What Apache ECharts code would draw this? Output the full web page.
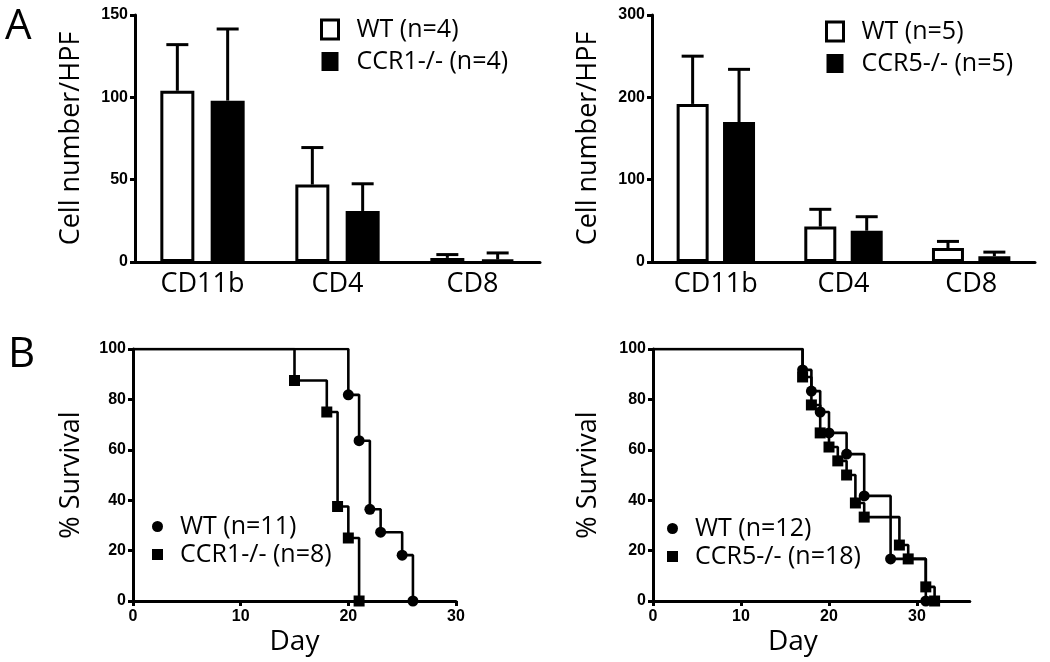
<!DOCTYPE html>
<html>
<head>
<meta charset="utf-8">
<script src="https://cdn.jsdelivr.net/npm/echarts@6/dist/echarts.min.js"></script>
<style>
html,body{margin:0;padding:0;background:#fff;}
#chart{width:1050px;height:662px;}
</style>
</head>
<body>
<div id="chart"></div>
<script>
// ---------- Data ----------
var cellCategories = ['CD11b', 'CD4', 'CD8'];

// Panel A left (CCR1)
var wtA1Mean = [104, 47, 2.5];
var wtA1Top = [132, 69.5, 4.5];
var koA1Mean = [98, 31, 1.5];
var koA1Top = [141.5, 47.5, 5.5];

// Panel A right (CCR5)
var wtA2Mean = [192, 43, 17];
var wtA2Top = [250, 64, 25];
var koA2Mean = [170, 38, 7];
var koA2Top = [234, 55, 12];

// Panel B left survival (day, % survival)
var wtB1 = [[0, 100], [20, 81.8], [21, 63.6], [22, 36.4], [23, 27.3], [25, 18.2], [26, 0]];
var koB1 = [[0, 100], [15, 87.5], [18, 75], [19, 37.5], [20, 25], [21, 0]];

// Panel B right survival
var wtB2 = [[0, 100], [17, 91.7], [18, 83.3], [19, 75], [20, 66.7], [22, 58.3], [24, 41.7], [27, 16.7], [31, 0]];
var koB2 = [[0, 100], [17, 88.9], [18, 77.8], [19, 66.7], [20, 61.1], [21, 55.6], [22, 50], [23, 38.9], [24, 33.3], [28, 22.2], [29, 16.7], [31, 5.6], [32, 0]];

var yTicksA1 = [0, 50, 100, 150];
var yTicksA2 = [0, 100, 200, 300];
var yTicksB = [0, 20, 40, 60, 80, 100];
var xTicksB = [0, 10, 20, 30];

var namesA1 = ['WT (n=4)', 'CCR1-/- (n=4)'];
var namesA2 = ['WT (n=5)', 'CCR5-/- (n=5)'];
var namesB1 = ['WT (n=11)', 'CCR1-/- (n=8)'];
var namesB2 = ['WT (n=12)', 'CCR5-/- (n=18)'];

// ---------- Styling helpers ----------
var TXT = '"Open Sans", "Noto Sans", sans-serif';
var TICKFONT = '"Liberation Sans", Arial, sans-serif';
var LW = 3;
var TICKSIZE = 16;

function yAxisVal(grid, max, interval, name, gap) {
  return {
    type: 'value', gridIndex: grid, min: 0, max: max, interval: interval,
    name: name, nameLocation: 'middle', nameGap: gap,
    nameTextStyle: {fontFamily: TXT, fontSize: 27, color: '#000'},
    axisLine: {show: true, lineStyle: {color: '#000', width: LW}},
    axisTick: {show: true, length: 5, lineStyle: {color: '#000', width: LW}},
    splitLine: {show: false},
    axisLabel: {fontFamily: TICKFONT, fontWeight: 'bold', fontSize: TICKSIZE, color: '#000', margin: 7}
  };
}

function errSeries(xi, yi, means, tops, offset) {
  var data = means.map(function (m, i) { return [i, m, tops[i]]; });
  return {
    type: 'custom', xAxisIndex: xi, yAxisIndex: yi, z: 1,
    encode: {x: 0, y: [1, 2]},
    data: data,
    renderItem: function (params, api) {
      var p0 = api.coord([api.value(0), api.value(1)]);
      var p1 = api.coord([api.value(0), api.value(2)]);
      var cx = p0[0] + offset;
      return {
        type: 'group', children: [
          {type: 'line', shape: {x1: cx, y1: p0[1], x2: cx, y2: p1[1]}, style: {stroke: '#000', lineWidth: LW}},
          {type: 'line', shape: {x1: cx - 11, y1: p1[1], x2: cx + 11, y2: p1[1]}, style: {stroke: '#000', lineWidth: LW}}
        ]
      };
    }
  };
}

function survData(arr) {
  return arr.map(function (p, i) {
    if (i === 0) return {value: p, symbol: 'none'};
    return {value: p};
  });
}

function survSeries(name, xi, yi, arr, symbol) {
  return {
    type: 'line', name: name, xAxisIndex: xi, yAxisIndex: yi,
    step: 'end', data: survData(arr),
    symbol: symbol, symbolSize: 11,
    showSymbol: true, showAllSymbol: true,
    lineStyle: {color: '#000', width: 2.6},
    itemStyle: {color: '#000'},
    animation: false, z: 3
  };
}

var BW1 = 34, BG1 = 0.48;
var BW2 = 32, BG2 = 0.45;

var option = {
  animation: false,
  backgroundColor: '#fff',
  grid: [
    {left: 135, top: 15, width: 405, height: 247, outerBoundsMode: 'none', containLabel: false},
    {left: 652, top: 15, width: 383, height: 247, outerBoundsMode: 'none', containLabel: false},
    {left: 133, top: 349, width: 323, height: 252, outerBoundsMode: 'none', containLabel: false},
    {left: 653, top: 349, width: 316.8, height: 252, outerBoundsMode: 'none', containLabel: false}
  ],
  xAxis: [
    {type: 'category', gridIndex: 0, data: cellCategories, boundaryGap: true,
      axisLine: {lineStyle: {color: '#000', width: LW}},
      axisTick: {alignWithLabel: true, length: 6, lineStyle: {color: '#000', width: LW}},
      axisLabel: {fontFamily: TXT, fontSize: 27, color: '#000', margin: 9}},
    {type: 'category', gridIndex: 1, data: cellCategories, boundaryGap: true,
      axisLine: {lineStyle: {color: '#000', width: LW}},
      axisTick: {alignWithLabel: true, length: 6, lineStyle: {color: '#000', width: LW}},
      axisLabel: {fontFamily: TXT, fontSize: 27, color: '#000', margin: 9}},
    {type: 'value', gridIndex: 2, min: 0, max: 30, interval: 10,
      name: 'Day', nameLocation: 'middle', nameGap: 27,
      nameTextStyle: {fontFamily: TXT, fontSize: 28, color: '#000'},
      axisLine: {lineStyle: {color: '#000', width: LW}},
      axisTick: {length: 5, lineStyle: {color: '#000', width: LW}},
      splitLine: {show: false},
      axisLabel: {fontFamily: TICKFONT, fontWeight: 'bold', fontSize: TICKSIZE, color: '#000', margin: 8}},
    {type: 'value', gridIndex: 3, min: 0, max: 36, interval: 10,
      name: 'Day', nameLocation: 'middle', nameGap: 27,
      nameTextStyle: {fontFamily: TXT, fontSize: 28, color: '#000', padding: [0, 37, 0, 0]},
      axisLine: {lineStyle: {color: '#000', width: LW}},
      axisTick: {length: 5, customValues: xTicksB, lineStyle: {color: '#000', width: LW}},
      splitLine: {show: false},
      axisLabel: {fontFamily: TICKFONT, fontWeight: 'bold', fontSize: TICKSIZE, color: '#000', margin: 8, customValues: xTicksB}}
  ],
  yAxis: [
    yAxisVal(0, 150, 50, 'Cell number/HPF', 50),
    yAxisVal(1, 300, 100, 'Cell number/HPF', 50),
    yAxisVal(2, 100, 20, '% Survival', 48),
    yAxisVal(3, 100, 20, '% Survival', 51)
  ],
  legend: [
    {left: 320, top: 17, orient: 'vertical', padding: 0, itemGap: 7, itemWidth: 17, itemHeight: 19,
      selectedMode: false,
      textStyle: {fontFamily: TXT, fontSize: 25, color: '#000', padding: [0, 0, 0, 13]},
      data: [
        {name: namesA1[0], icon: 'rect', itemStyle: {color: '#fff', borderColor: '#000', borderWidth: 3}},
        {name: namesA1[1], icon: 'rect', itemStyle: {color: '#000', borderColor: '#000', borderWidth: 0}}
      ]},
    {left: 825, top: 19, orient: 'vertical', padding: 0, itemGap: 7, itemWidth: 17, itemHeight: 19,
      selectedMode: false,
      textStyle: {fontFamily: TXT, fontSize: 25, color: '#000', padding: [0, 0, 0, 13]},
      data: [
        {name: namesA2[0], icon: 'rect', itemStyle: {color: '#fff', borderColor: '#000', borderWidth: 3}},
        {name: namesA2[1], icon: 'rect', itemStyle: {color: '#000', borderColor: '#000', borderWidth: 0}}
      ]},
    {left: 152, top: 514, orient: 'vertical', padding: 0, itemGap: 3, itemWidth: 11, itemHeight: 11,
      selectedMode: false,
      textStyle: {fontFamily: TXT, fontSize: 25, color: '#000', padding: [0, 0, 0, 12]},
      data: [{name: namesB1[0], icon: 'circle'}, {name: namesB1[1], icon: 'rect'}]},
    {left: 667, top: 516, orient: 'vertical', padding: 0, itemGap: 3, itemWidth: 11, itemHeight: 11,
      selectedMode: false,
      textStyle: {fontFamily: TXT, fontSize: 25, color: '#000', padding: [0, 0, 0, 12]},
      data: [{name: namesB2[0], icon: 'circle'}, {name: namesB2[1], icon: 'rect'}]}
  ],
  graphic: [
    {type: 'text', left: 5, top: 6, style: {text: 'A', font: '42px ' + TXT, fill: '#000'}},
    {type: 'text', left: 8, top: 334, style: {text: 'B', font: '42px ' + TXT, fill: '#000'}}
  ],
  series: [
    {type: 'bar', name: namesA1[0], xAxisIndex: 0, yAxisIndex: 0, data: wtA1Mean,
      barWidth: BW1, barGap: (BG1 * 100) + '%', z: 2,
      itemStyle: {color: '#fff', borderColor: '#000', borderWidth: LW}},
    {type: 'bar', name: namesA1[1], xAxisIndex: 0, yAxisIndex: 0, data: koA1Mean,
      barWidth: BW1, barGap: (BG1 * 100) + '%', z: 2,
      itemStyle: {color: '#000', borderColor: '#000', borderWidth: LW}},
    errSeries(0, 0, wtA1Mean, wtA1Top, -BW1 * (1 + BG1) / 2),
    errSeries(0, 0, koA1Mean, koA1Top, BW1 * (1 + BG1) / 2),

    {type: 'bar', name: namesA2[0], xAxisIndex: 1, yAxisIndex: 1, data: wtA2Mean,
      barWidth: BW2, barGap: (BG2 * 100) + '%', z: 2,
      itemStyle: {color: '#fff', borderColor: '#000', borderWidth: LW}},
    {type: 'bar', name: namesA2[1], xAxisIndex: 1, yAxisIndex: 1, data: koA2Mean,
      barWidth: BW2, barGap: (BG2 * 100) + '%', z: 2,
      itemStyle: {color: '#000', borderColor: '#000', borderWidth: LW}},
    errSeries(1, 1, wtA2Mean, wtA2Top, -BW2 * (1 + BG2) / 2),
    errSeries(1, 1, koA2Mean, koA2Top, BW2 * (1 + BG2) / 2),

    survSeries(namesB1[0], 2, 2, wtB1, 'circle'),
    survSeries(namesB1[1], 2, 2, koB1, 'rect'),
    survSeries(namesB2[0], 3, 3, wtB2, 'circle'),
    survSeries(namesB2[1], 3, 3, koB2, 'rect')
  ]
};

var chart = echarts.init(document.getElementById('chart'), null, {renderer: 'canvas'});
chart.setOption(option);
</script>
</body>
</html>
